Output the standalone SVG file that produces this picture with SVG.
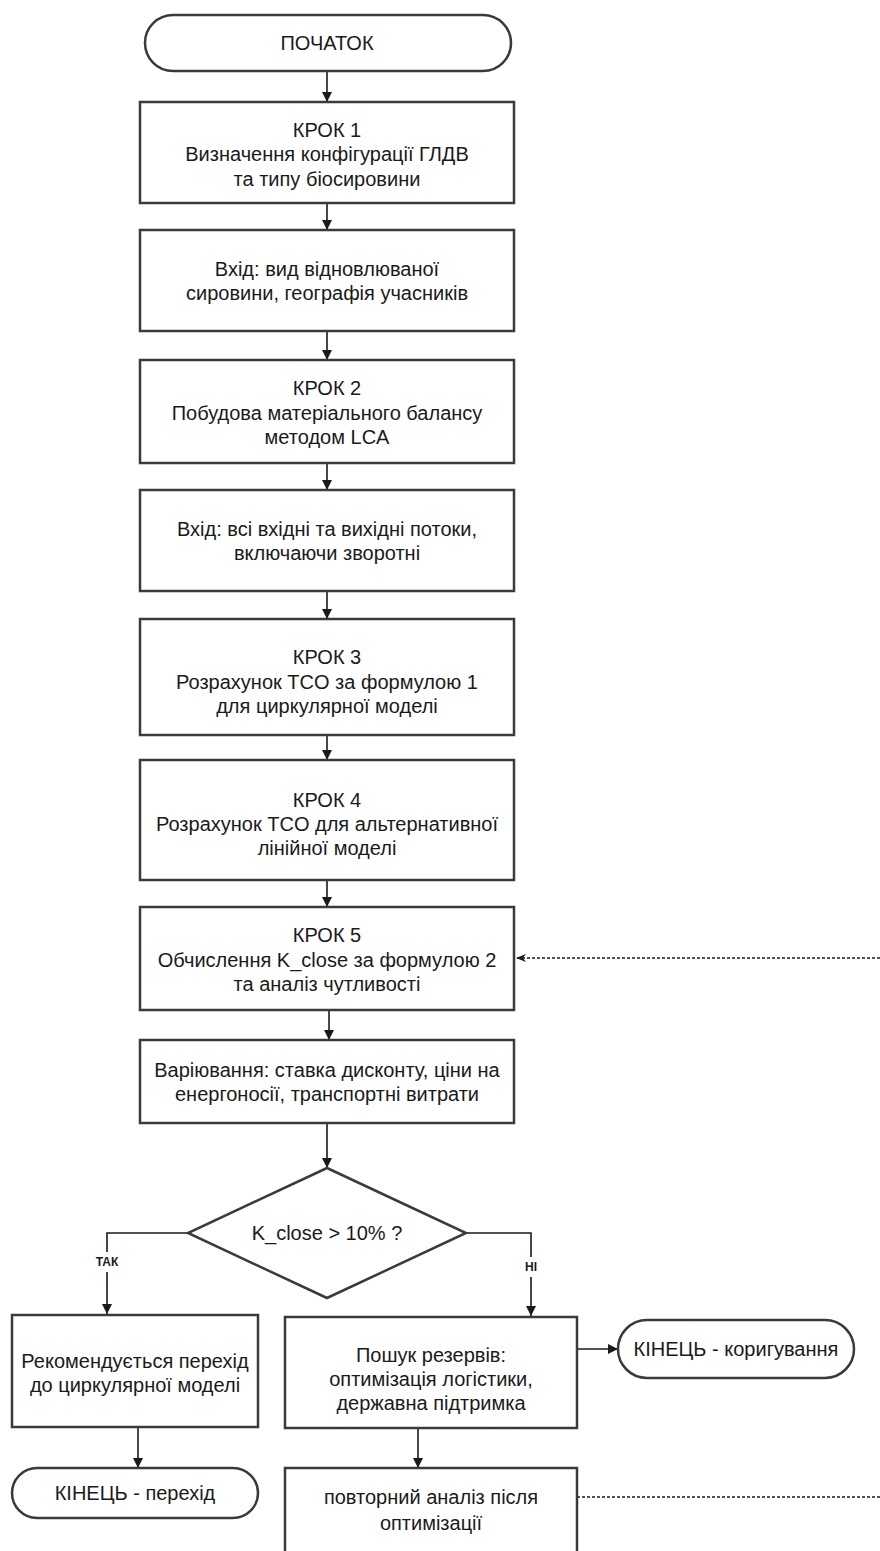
<svg xmlns="http://www.w3.org/2000/svg" width="880" height="1551" viewBox="0 0 880 1551">
<defs>
<style>
.b{fill:#fff;stroke:#3a3a3a;stroke-width:2.5}
.t{font-family:"Liberation Sans",Arial,sans-serif;font-size:20px;fill:#1a1a1a;text-anchor:middle}
.l{font-family:"Liberation Sans",Arial,sans-serif;font-size:12px;font-weight:bold;fill:#1a1a1a;text-anchor:middle}
.c{fill:none;stroke:#1a1a1a;stroke-width:1.6}
.d{fill:none;stroke:#1a1a1a;stroke-width:1.6;stroke-dasharray:3 2}
</style>
<marker id="a" viewBox="0 0 10 10" refX="10" refY="5" markerWidth="10" markerHeight="10" markerUnits="userSpaceOnUse" orient="auto"><path d="M0,0 L10,5 L0,10 z" fill="#1a1a1a"/></marker>
<marker id="a2" viewBox="0 0 10 10" refX="10" refY="5" markerWidth="10" markerHeight="10" markerUnits="userSpaceOnUse" orient="auto"><path d="M0,1 L10,5 L0,9 L3,5 z" fill="#1a1a1a"/></marker>
</defs>
<g id="connectors">
<line class="c" x1="327" y1="71" x2="327" y2="102" marker-end="url(#a)"/>
<line class="c" x1="327" y1="203" x2="327" y2="230" marker-end="url(#a)"/>
<line class="c" x1="327" y1="331" x2="327" y2="360" marker-end="url(#a)"/>
<line class="c" x1="327" y1="463" x2="327" y2="490" marker-end="url(#a)"/>
<line class="c" x1="327" y1="591" x2="327" y2="619" marker-end="url(#a)"/>
<line class="c" x1="327" y1="735" x2="327" y2="760" marker-end="url(#a)"/>
<line class="c" x1="327" y1="880" x2="327" y2="907" marker-end="url(#a)"/>
<line class="c" x1="329" y1="1010" x2="329" y2="1040" marker-end="url(#a)"/>
<line class="c" x1="327" y1="1123" x2="327" y2="1168" marker-end="url(#a)"/>
<polyline class="c" points="188,1233 107,1233 107,1252"/>
<polyline class="c" points="107,1272 107,1314" marker-end="url(#a)"/>
<polyline class="c" points="466,1233 531,1233 531,1257"/>
<polyline class="c" points="531,1277 531,1316" marker-end="url(#a)"/>
<line class="c" x1="138" y1="1427" x2="138" y2="1468" marker-end="url(#a)"/>
<line class="c" x1="418" y1="1428" x2="418" y2="1468" marker-end="url(#a)"/>
<line class="c" x1="577" y1="1349" x2="618" y2="1349" marker-end="url(#a)"/>
<line class="d" x1="880" y1="958" x2="516" y2="958" marker-end="url(#a2)"/>
<line class="d" x1="577" y1="1497" x2="880" y2="1497"/>
<text class="l" x="107" y="1266">ТАК</text>
<text class="l" x="531" y="1271">НІ</text>
</g>
<g id="start">
<rect class="b" x="145" y="15" width="366" height="56" rx="28"/>
<text class="t" x="327" y="50">ПОЧАТОК</text>
</g>
<g id="step1">
<rect class="b" x="140" y="102" width="374" height="101"/>
<text class="t" x="327" y="137">КРОК 1</text>
<text class="t" x="327" y="161">Визначення конфігурації ГЛДВ</text>
<text class="t" x="327" y="186">та типу біосировини</text>
</g>
<g id="input1">
<rect class="b" x="140" y="230" width="374" height="101"/>
<text class="t" x="327" y="276">Вхід: вид відновлюваної</text>
<text class="t" x="327" y="300">сировини, географія учасників</text>
</g>
<g id="step2">
<rect class="b" x="140" y="360" width="374" height="103"/>
<text class="t" x="327" y="395">КРОК 2</text>
<text class="t" x="327" y="420">Побудова матеріального балансу</text>
<text class="t" x="327" y="444">методом LCA</text>
</g>
<g id="input2">
<rect class="b" x="140" y="490" width="374" height="101"/>
<text class="t" x="327" y="536">Вхід: всі вхідні та вихідні потоки,</text>
<text class="t" x="327" y="560">включаючи зворотні</text>
</g>
<g id="step3">
<rect class="b" x="140" y="619" width="374" height="116"/>
<text class="t" x="327" y="664">КРОК 3</text>
<text class="t" x="327" y="689">Розрахунок TCO за формулою 1</text>
<text class="t" x="327" y="713">для циркулярної моделі</text>
</g>
<g id="step4">
<rect class="b" x="140" y="760" width="374" height="120"/>
<text class="t" x="327" y="807">КРОК 4</text>
<text class="t" x="327" y="831">Розрахунок TCO для альтернативної</text>
<text class="t" x="327" y="855">лінійної моделі</text>
</g>
<g id="step5">
<rect class="b" x="140" y="907" width="374" height="103"/>
<text class="t" x="327" y="942">КРОК 5</text>
<text class="t" x="327" y="967">Обчислення K_close за формулою 2</text>
<text class="t" x="327" y="991">та аналіз чутливості</text>
</g>
<g id="variation">
<rect class="b" x="140" y="1040" width="374" height="83"/>
<text class="t" x="327" y="1077">Варіювання: ставка дисконту, ціни на</text>
<text class="t" x="327" y="1101">енергоносії, транспортні витрати</text>
</g>
<g id="decision">
<polygon class="b" points="327,1168 466,1233 327,1298 188,1233"/>
<text class="t" x="327" y="1240">K_close &gt; 10% ?</text>
</g>
<g id="yes">
<rect class="b" x="12" y="1315" width="246" height="112"/>
<text class="t" x="135" y="1368">Рекомендується перехід</text>
<text class="t" x="135" y="1392">до циркулярної моделі</text>
</g>
<g id="end-yes">
<rect class="b" x="12" y="1468" width="246" height="50" rx="25"/>
<text class="t" x="135" y="1500">КІНЕЦЬ - перехід</text>
</g>
<g id="no">
<rect class="b" x="285" y="1317" width="292" height="111"/>
<text class="t" x="431" y="1362">Пошук резервів:</text>
<text class="t" x="431" y="1386">оптимізація логістики,</text>
<text class="t" x="431" y="1410">державна підтримка</text>
</g>
<g id="end-no">
<rect class="b" x="618" y="1320" width="236" height="58" rx="29"/>
<text class="t" x="736" y="1356">КІНЕЦЬ - коригування</text>
</g>
<g id="reanalysis">
<rect class="b" x="285" y="1468" width="292" height="95"/>
<text class="t" x="431" y="1504">повторний аналіз після</text>
<text class="t" x="431" y="1530">оптимізації</text>
</g>
</svg>
